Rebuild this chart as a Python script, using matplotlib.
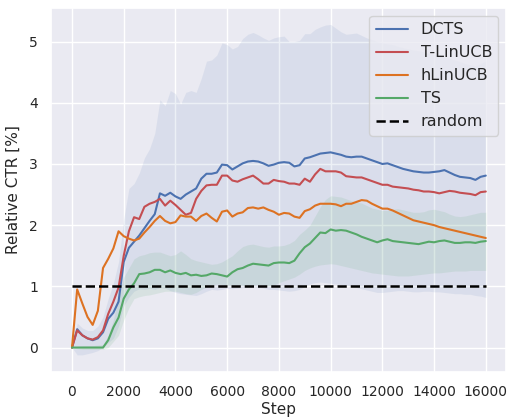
import numpy as np
import matplotlib
matplotlib.use('Agg')
import matplotlib.pyplot as plt
import seaborn as sns

sns.set_theme(style='darkgrid')
plt.rcParams['xtick.labelsize'] = 10
plt.rcParams['ytick.labelsize'] = 10
plt.rcParams['axes.labelsize'] = 11
plt.rcParams['legend.fontsize'] = 11.5

# steps sampled every 200
steps = np.arange(0, 16001, 200)

dcts = [0.00, 0.30, 0.20, 0.15, 0.12, 0.15, 0.25, 0.47, 0.57, 0.75,
        1.40, 1.63, 1.73, 1.83, 1.95, 2.07, 2.18, 2.52, 2.48, 2.53,
        2.47, 2.43, 2.50, 2.55, 2.60, 2.76, 2.84, 2.84, 2.86, 2.99,
        2.98, 2.91, 2.96, 3.01, 3.04, 3.05, 3.04, 3.01, 2.97, 2.99,
        3.02, 3.03, 3.02, 2.96, 2.98, 3.09, 3.11, 3.14, 3.17, 3.18,
        3.19, 3.17, 3.15, 3.12, 3.11, 3.12, 3.12, 3.09, 3.06, 3.03,
        3.00, 3.01, 2.98, 2.95, 2.92, 2.90, 2.88, 2.87, 2.86, 2.86,
        2.87, 2.88, 2.90, 2.86, 2.82, 2.79, 2.78, 2.77, 2.74, 2.79,
        2.81]
dcts_hi = [0.00, 0.40, 0.32, 0.28, 0.28, 0.35, 0.50, 0.80, 1.05, 1.40,
           2.10, 2.60, 2.68, 2.85, 3.10, 3.25, 3.50, 4.05, 3.95, 4.20,
           4.15, 3.98, 4.17, 4.20, 4.17, 4.40, 4.68, 4.70, 4.78, 4.98,
           4.95, 4.88, 4.92, 5.05, 5.12, 5.15, 5.11, 5.06, 5.02, 5.06,
           5.08, 5.09, 5.00, 5.00, 5.02, 5.13, 5.13, 5.20, 5.24, 5.27,
           5.28, 5.22, 5.16, 5.12, 5.13, 5.14, 5.10, 5.06, 5.03, 5.00,
           4.98, 4.96, 4.95, 4.92, 4.90, 4.88, 4.86, 4.85, 4.83, 4.81,
           4.79, 4.78, 4.75, 4.72, 4.70, 4.67, 4.64, 4.62, 4.60, 4.64,
           4.68]
dcts_lo = [0.00, -0.12, -0.12, -0.10, -0.08, -0.05, 0.00, 0.08, 0.15, 0.35,
           0.68, 0.82, 0.92, 0.96, 0.95, 0.97, 0.95, 0.98, 0.97, 0.93,
           0.90, 0.88, 0.87, 0.86, 0.85, 0.88, 0.92, 0.95, 0.94, 0.95,
           0.97, 0.96, 0.97, 0.98, 0.99, 0.99, 0.98, 0.97, 0.95, 0.95,
           0.94, 0.93, 0.92, 0.93, 0.95, 1.00, 1.04, 1.06, 1.07, 1.06,
           1.05, 1.04, 1.03, 1.02, 1.00, 0.98, 0.96, 0.94, 0.92, 0.90,
           0.90, 0.91, 0.92, 0.93, 0.93, 0.92, 0.91, 0.91, 0.92, 0.92,
           0.91, 0.91, 0.90, 0.89, 0.88, 0.88, 0.87, 0.87, 0.85, 0.84,
           0.82]
t_linucb = [0.00, 0.28, 0.20, 0.15, 0.13, 0.17, 0.28, 0.55, 0.75, 0.98,
            1.50, 1.90, 2.13, 2.10, 2.30, 2.35, 2.38, 2.43, 2.32, 2.40,
            2.33, 2.25, 2.17, 2.20, 2.43, 2.56, 2.65, 2.66, 2.66, 2.81,
            2.81, 2.73, 2.71, 2.75, 2.78, 2.81, 2.75, 2.68, 2.68, 2.74,
            2.72, 2.71, 2.68, 2.68, 2.66, 2.76, 2.71, 2.83, 2.92, 2.88,
            2.88, 2.88, 2.86, 2.80, 2.79, 2.78, 2.78, 2.75, 2.72, 2.69,
            2.66, 2.66, 2.63, 2.62, 2.61, 2.60, 2.58, 2.57, 2.55, 2.55,
            2.54, 2.52, 2.54, 2.56, 2.55, 2.53, 2.52, 2.51, 2.49, 2.54,
            2.55]
h_linucb = [0.00, 0.95, 0.72, 0.50, 0.37, 0.60, 1.30, 1.45, 1.62, 1.90,
            1.82, 1.78, 1.75, 1.78, 1.88, 1.97, 2.07, 2.15, 2.07, 2.03,
            2.05, 2.16, 2.14, 2.14, 2.07, 2.15, 2.19, 2.12, 2.06, 2.22,
            2.24, 2.14, 2.19, 2.21, 2.28, 2.29, 2.27, 2.29, 2.25, 2.22,
            2.17, 2.20, 2.19, 2.14, 2.12, 2.23, 2.26, 2.32, 2.35, 2.35,
            2.35, 2.34, 2.31, 2.35, 2.35, 2.38, 2.41, 2.40, 2.35, 2.31,
            2.27, 2.27, 2.24, 2.20, 2.16, 2.12, 2.08, 2.06, 2.04, 2.02,
            2.00, 1.97, 1.95, 1.93, 1.91, 1.89, 1.87, 1.85, 1.83, 1.81,
            1.79]
ts = [0.00, 0.00, 0.00, 0.00, 0.00, 0.00, 0.00, 0.12, 0.33, 0.49,
      0.80, 0.95, 1.05, 1.20, 1.21, 1.23, 1.27, 1.27, 1.23, 1.26,
      1.22, 1.20, 1.22, 1.18, 1.19, 1.17, 1.18, 1.21, 1.20, 1.18,
      1.16, 1.23, 1.28, 1.30, 1.34, 1.37, 1.36, 1.35, 1.34, 1.38,
      1.39, 1.39, 1.38, 1.42, 1.54, 1.64, 1.70, 1.79, 1.88, 1.87,
      1.93, 1.91, 1.92, 1.91, 1.88, 1.85, 1.81, 1.78, 1.75, 1.72,
      1.75, 1.77, 1.74, 1.73, 1.72, 1.71, 1.70, 1.69, 1.71, 1.73,
      1.72, 1.74, 1.75, 1.73, 1.71, 1.71, 1.72, 1.72, 1.71, 1.73,
      1.74]
ts_hi = [0.00, 0.02, 0.03, 0.03, 0.03, 0.04, 0.05, 0.20, 0.45, 0.85,
         1.15, 1.30, 1.45, 1.50, 1.52, 1.55, 1.56, 1.56, 1.53, 1.50,
         1.52, 1.58, 1.52, 1.45, 1.42, 1.40, 1.38, 1.36, 1.37, 1.40,
         1.45, 1.50, 1.58, 1.65, 1.68, 1.69, 1.67, 1.65, 1.64, 1.66,
         1.66, 1.67, 1.70, 1.75, 1.85, 1.92, 2.00, 2.15, 2.30, 2.42,
         2.48, 2.47, 2.46, 2.43, 2.40, 2.38, 2.36, 2.32, 2.28, 2.26,
         2.24, 2.24, 2.26, 2.27, 2.25, 2.23, 2.21, 2.21, 2.22, 2.25,
         2.26, 2.24, 2.22, 2.18, 2.15, 2.14, 2.15, 2.17, 2.19, 2.21,
         2.21]
ts_lo = [0.00, -0.02, -0.03, -0.03, -0.03, -0.03, -0.03, 0.00, 0.10, 0.20,
         0.45, 0.65, 0.80, 0.83, 0.85, 0.86, 0.88, 0.90, 0.92, 0.92,
         0.92, 0.90, 0.88, 0.87, 0.90, 0.95, 0.99, 1.02, 1.04, 1.03,
         1.02, 1.02, 1.03, 1.02, 1.01, 1.02, 1.03, 1.02, 1.01, 1.02,
         1.06, 1.09, 1.12, 1.15, 1.20, 1.26, 1.30, 1.33, 1.35, 1.36,
         1.37, 1.36, 1.34, 1.32, 1.30, 1.28, 1.26, 1.24, 1.22, 1.21,
         1.20, 1.19, 1.18, 1.17, 1.17, 1.17, 1.18, 1.19, 1.20, 1.21,
         1.22, 1.22, 1.23, 1.24, 1.25, 1.25, 1.25, 1.26, 1.26, 1.26,
         1.26]
random_steps = [0, 16000]
random_ctr = [1.0, 1.0]

blue, red, orange, green = '#4c72b0', '#c44e52', '#dd7222', '#55a868'

fig = plt.figure(figsize=(5.08, 4.18), dpi=100)
ax = fig.add_axes([0.101, 0.110, 0.896, 0.871])

ax.fill_between(steps, dcts_lo, dcts_hi, color=blue, alpha=0.1, lw=0)
ax.fill_between(steps, ts_lo, ts_hi, color=green, alpha=0.12, lw=0)
ax.plot(steps, dcts, color=blue, lw=1.5, label='DCTS')
ax.plot(steps, t_linucb, color=red, lw=1.5, label='T-LinUCB')
ax.plot(steps, h_linucb, color=orange, lw=1.5, label='hLinUCB')
ax.plot(steps, ts, color=green, lw=1.5, label='TS')
ax.plot(random_steps, random_ctr, color='black', ls='--', lw=1.8, label='random')

ax.set_xlim(-800, 16800)
ax.set_ylim(-0.4, 5.55)
ax.set_xticks(np.arange(0, 16001, 2000))
ax.set_xlabel('Step', labelpad=2)
ax.set_ylabel('Relative CTR [%]', labelpad=6)
ax.legend(loc='upper right')

fig.savefig('out.png', dpi=100)
